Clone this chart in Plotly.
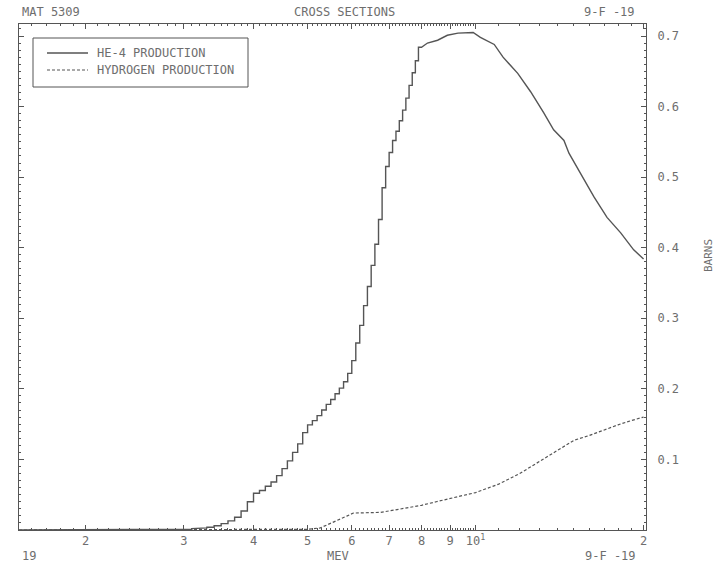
import plotly.graph_objects as go

# He-4 production: histogram-like steps (bin lower edge in MeV, cross section in barns)
he_step_edges = [3.0, 3.1, 3.2, 3.3, 3.4, 3.5, 3.6, 3.7, 3.8, 3.9,
                 4.0, 4.1, 4.2, 4.3, 4.4, 4.5, 4.6, 4.7, 4.8, 4.9,
                 5.0, 5.1, 5.2, 5.3, 5.4, 5.5, 5.6, 5.7, 5.8, 5.9,
                 6.0, 6.1, 6.2, 6.3, 6.4, 6.5, 6.6, 6.7, 6.8, 6.9,
                 7.0, 7.1, 7.2, 7.3, 7.4, 7.5, 7.6, 7.7, 7.8, 7.9, 8.0]
he_step_values = [0.001, 0.002, 0.003, 0.004, 0.006, 0.009, 0.013, 0.018, 0.027, 0.040,
                  0.052, 0.056, 0.062, 0.068, 0.077, 0.087, 0.098, 0.110, 0.122, 0.138,
                  0.149, 0.155, 0.162, 0.170, 0.178, 0.185, 0.193, 0.201, 0.210, 0.222,
                  0.240, 0.265, 0.290, 0.318, 0.345, 0.375, 0.405, 0.440, 0.485, 0.515,
                  0.535, 0.552, 0.565, 0.580, 0.595, 0.612, 0.630, 0.648, 0.665, 0.684]

# He-4 production: pointwise part above the step region
he_energy = [8.0, 8.2, 8.55, 8.9, 9.3, 9.9, 10.2, 10.8, 11.2, 11.9, 12.55,
             13.25, 13.8, 14.4, 14.7, 15.4, 16.3, 17.2, 18.2, 19.2, 20.0]
he_xs = [0.684, 0.690, 0.694, 0.701, 0.704, 0.705, 0.698, 0.688, 0.670, 0.647, 0.621,
         0.591, 0.567, 0.552, 0.534, 0.506, 0.472, 0.443, 0.421, 0.397, 0.384]

# Hydrogen production
h_energy = [1.52, 4.5, 5.0, 5.27, 5.57, 5.89, 6.04, 6.4, 6.76, 7.0, 7.5, 8.0,
            8.5, 9.0, 9.5, 10.0, 11.0, 12.0, 13.0, 13.5, 14.0, 14.5, 15.0,
            16.0, 17.0, 18.0, 19.0, 20.0]
h_xs = [0.0, 0.0, 0.001, 0.003, 0.011, 0.020, 0.024, 0.024, 0.025, 0.027, 0.031, 0.035,
        0.040, 0.045, 0.049, 0.053, 0.065, 0.080, 0.097, 0.105, 0.113, 0.121, 0.127,
        0.134, 0.142, 0.149, 0.155, 0.160]

series_names = ["HE-4 PRODUCTION", "HYDROGEN PRODUCTION"]

# x tick positions and labels (log axis)
x_tick_vals = [2, 3, 4, 5, 6, 7, 8, 9, 10, 20]
x_tick_text = ["2", "3", "4", "5", "6", "7", "8", "9", "10<sup>1</sup>", "2"]
y_tick_vals = [0.1, 0.2, 0.3, 0.4, 0.5, 0.6, 0.7]
y_tick_text = ["0.1", "0.2", "0.3", "0.4", "0.5", "0.6", "0.7"]

# Assemble the He-4 curve: threshold baseline, steps, then the smooth tail
he_x = [1.52, he_step_edges[0]]
he_y = [0.0, 0.0]
for i, v in enumerate(he_step_values):
    he_x += [he_step_edges[i], he_step_edges[i + 1]]
    he_y += [v, v]
he_x += he_energy[1:]
he_y += he_xs[1:]

INK = "#555555"
TXT = "#6e6e6e"
FONT = "DejaVu Sans Mono"
FS = 12
H_DASH = "3px,2px"

# plot frame in page pixels
L, R, T, B = 19, 646, 24, 530


def px(x):
    return (x - L) / (R - L)


def py(y):
    return (B - y) / (B - T)


fig = go.Figure()
fig.add_trace(go.Scatter(x=he_x, y=he_y, mode="lines", name=series_names[0],
                         line=dict(color=INK, width=1.4), showlegend=False))
fig.add_trace(go.Scatter(x=h_energy, y=h_xs, mode="lines", name=series_names[1],
                         line=dict(color=INK, width=1.2, dash=H_DASH), showlegend=False))

# minor tick positions along the energy axis
minor_x = [round(1.6 + 0.1 * k, 1) for k in range(85)] + list(range(11, 21))

fig.update_layout(
    width=723, height=566,
    margin=dict(l=L, r=723 - R, t=T, b=566 - B),
    paper_bgcolor="white", plot_bgcolor="white",
    font=dict(family=FONT, size=FS, color=TXT),
    showlegend=False,
    xaxis=dict(type="log", range=[0.1818, 1.3054],
               tickmode="array", tickvals=x_tick_vals, ticktext=x_tick_text,
               ticks="inside", ticklen=5, tickcolor=INK,
               showline=True, linecolor=INK, linewidth=1, mirror="allticks",
               showgrid=False, zeroline=False,
               tickfont=dict(family=FONT, size=FS, color=TXT),
               minor=dict(tickmode="array", tickvals=minor_x, ticks="inside",
                          ticklen=2, tickcolor=INK)),
    yaxis=dict(range=[0, 0.717], side="right",
               tickmode="array", tickvals=y_tick_vals, ticktext=y_tick_text,
               ticks="inside", ticklen=5, tickcolor=INK,
               showline=True, linecolor=INK, linewidth=1, mirror="allticks",
               showgrid=False, zeroline=False, ticklabelstandoff=8,
               tickfont=dict(family=FONT, size=FS, color=TXT),
               minor=dict(dtick=0.01, ticks="inside", ticklen=2, tickcolor=INK)),
)

# legend box drawn in the upper-left corner of the frame
fig.add_shape(type="rect", xref="paper", yref="paper",
              x0=px(33), x1=px(248), y0=py(87), y1=py(38),
              line=dict(color=INK, width=1), fillcolor="white", layer="above")
legend_rows = [(53, dict(color=INK, width=1.4)),
               (70, dict(color=INK, width=1.2, dash=H_DASH))]
for (row_y, style), name in zip(legend_rows, series_names):
    fig.add_shape(type="line", xref="paper", yref="paper",
                  x0=px(47), x1=px(88), y0=py(row_y), y1=py(row_y), line=style)
    fig.add_annotation(text=name, xref="paper", yref="paper",
                       x=px(95), y=py(row_y), xanchor="left", yanchor="middle",
                       showarrow=False, font=dict(family=FONT, size=FS, color=TXT))

# header and footer annotations
notes = [
    ("MAT 5309", 20, 12, "left"),
    ("CROSS SECTIONS", 344, 12, "center"),
    ("9-F -19", 637, 12, "right"),
    ("19", 20, 556, "left"),
    ("MEV", 338, 556, "center"),
    ("9-F -19", 638, 556, "right"),
]
for text, x, y, anchor in notes:
    fig.add_annotation(text=text, xref="paper", yref="paper",
                       x=px(x), y=py(y), xanchor=anchor, yanchor="middle",
                       showarrow=False, font=dict(family=FONT, size=FS, color=TXT))
fig.add_annotation(text="BARNS", xref="paper", yref="paper",
                   x=px(708), y=py(256), textangle=-90,
                   xanchor="center", yanchor="middle", showarrow=False,
                   font=dict(family=FONT, size=FS - 1, color=TXT))

fig.write_html("out.html")
